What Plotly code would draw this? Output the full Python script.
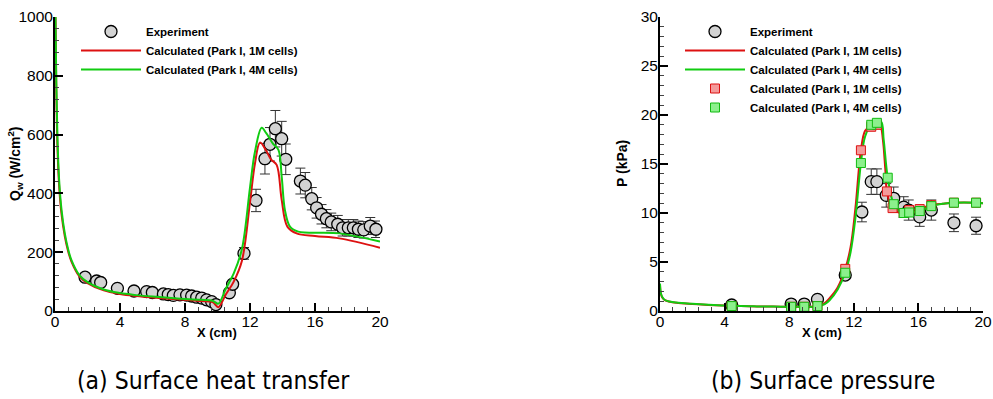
import plotly.graph_objects as go

# ---------------- (a) Surface heat transfer ----------------
exp_q_x = [1.85, 2.56, 2.81, 3.84, 4.86, 5.64, 5.99, 6.67, 6.97, 7.28, 7.69, 8.10, 8.41,
           8.72, 9.03, 9.33, 9.64, 9.90, 10.73, 10.93, 11.63, 12.37, 12.92, 13.23, 13.56,
           13.95, 14.20, 15.10, 15.40, 15.80, 16.10, 16.40, 16.70, 17.00, 17.40, 17.70,
           18.05, 18.36, 18.67, 19.00, 19.40, 19.75]
exp_q_y = [115, 102, 97, 77, 68, 66, 63, 58, 56, 53, 55, 54, 51,
           47, 44, 38, 32, 22, 62, 91, 196, 376, 518, 567, 620,
           586, 516, 442, 428, 382, 351, 329, 314, 303, 295, 283,
           283, 283, 278, 276, 289, 278]
exp_q_err = [11, 10, 10, 8, 7, 7, 6, 6, 6, 5, 6, 5, 5,
             5, 4, 4, 3, 2, 6, 9, 20, 38, 52, 57, 62,
             59, 52, 44, 43, 38, 35, 33, 31, 30, 30, 28,
             28, 28, 28, 28, 29, 28]

calc1m_q_x = [0.03, 0.08, 0.15, 0.25, 0.4, 0.6, 0.8, 1.0, 1.5, 2.0, 3.0, 4.0, 5.0, 6.0, 7.0,
              8.0, 9.0, 9.7, 10.05, 10.5, 11.0, 11.5, 12.0, 12.3, 12.62, 13.0, 13.3, 13.64,
              13.95, 14.3, 14.87, 16.0, 17.5, 20.0]
calc1m_q_y = [1000, 750, 560, 430, 330, 255, 205, 170, 118, 95, 70, 58, 51, 46, 42,
              38, 34, 30, 13, 55, 100, 170, 370, 500, 573, 545, 515, 497,
              378, 287, 264, 255, 247, 215]

calc4m_q_x = [0.03, 0.08, 0.15, 0.25, 0.4, 0.6, 0.8, 1.0, 1.5, 2.0, 3.0, 4.0, 5.0, 6.0, 7.0,
              8.0, 9.0, 9.7, 10.05, 10.5, 11.0, 11.5, 12.0, 12.3, 12.72, 13.0, 13.4, 13.75,
              13.95, 14.15, 14.46, 14.97, 17.5, 20.0]
calc4m_q_y = [1000, 780, 590, 450, 345, 265, 212, 175, 122, 98, 73, 61, 54, 49, 45,
              41, 38, 35, 25, 75, 128, 210, 420, 540, 623, 605, 570, 548,
              457, 343, 287, 270, 264, 236]

# ---------------- (b) Surface pressure ----------------
exp_p_x = [4.44, 8.12, 8.93, 9.75, 11.47, 12.50, 13.08, 13.43, 14.01, 14.47, 15.09, 15.40,
           16.08, 16.80, 18.20, 19.57]
exp_p_y = [0.61, 0.71, 0.71, 1.19, 3.67, 10.1, 13.2, 13.2, 11.8, 11.5, 10.6, 10.3,
           9.6, 10.3, 9.0, 8.7]
exp_p_err = [0.06, 0.07, 0.07, 0.12, 0.37, 1.0, 1.3, 1.3, 1.2, 1.15, 1.06, 1.03,
             0.96, 1.03, 0.9, 0.87]

calc1m_p_x = [0.0, 0.05, 0.15, 0.3, 0.6, 1.0, 2.0, 3.0, 4.0, 5.0, 6.0, 7.0, 8.0, 9.0, 9.75,
              10.2, 10.5, 11.0, 11.47, 11.8, 12.1, 12.44, 12.7, 13.0, 13.4, 13.65, 13.8,
              13.95, 14.05, 14.35, 14.7, 15.0, 15.4, 16.0, 16.75, 17.5, 18.15, 19.55, 20.0]
calc1m_p_y = [2.7, 1.8, 1.35, 1.1, 0.95, 0.85, 0.72, 0.62, 0.55, 0.5, 0.47, 0.45, 0.43, 0.43, 0.48,
              0.8, 1.3, 2.4, 4.3, 6.5, 10.5, 16.4, 18.4, 18.8, 18.9, 18.8, 17.5,
              14.5, 12.2, 10.5, 10.1, 10.0, 10.3, 10.4, 10.8, 10.95, 11.05, 11.05, 11.0]

calc4m_p_x = [0.0, 0.05, 0.15, 0.3, 0.6, 1.0, 2.0, 3.0, 4.0, 5.0, 6.0, 7.0, 8.0, 9.0, 9.75,
              10.2, 10.5, 11.0, 11.47, 11.8, 12.1, 12.44, 12.7, 13.08, 13.43, 13.7, 13.85,
              14.1, 14.47, 14.8, 15.09, 15.43, 16.08, 16.8, 17.5, 18.2, 19.57, 20.0]
calc4m_p_y = [2.8, 1.85, 1.4, 1.12, 0.96, 0.86, 0.73, 0.63, 0.56, 0.5, 0.47, 0.45, 0.43, 0.43, 0.45,
              0.7, 1.1, 2.2, 3.9, 6.0, 9.5, 15.1, 17.8, 19.0, 19.2, 19.3, 17.5,
              13.6, 10.9, 10.2, 10.0, 10.05, 10.2, 10.7, 10.95, 11.05, 11.05, 11.0]

sq1m_p_x = [4.44, 8.12, 8.93, 9.75, 11.47, 12.44, 13.08, 13.43, 14.05, 14.40, 15.09, 15.43,
            16.08, 16.80, 18.20, 19.57]
sq1m_p_y = [0.5, 0.43, 0.43, 0.5, 4.3, 16.4, 18.8, 19.0, 12.2, 10.5, 10.0, 10.3,
            10.4, 10.8, 11.05, 11.05]
sq4m_p_x = [4.44, 8.12, 8.93, 9.75, 11.47, 12.44, 13.08, 13.43, 14.10, 14.47, 15.09, 15.43,
            16.08, 16.80, 18.20, 19.57]
sq4m_p_y = [0.5, 0.43, 0.43, 0.5, 3.9, 15.1, 19.0, 19.2, 13.6, 10.9, 10.0, 10.05,
            10.2, 10.7, 11.05, 11.05]

x_ticks = [0, 4, 8, 12, 16, 20]
captions = ["(a) Surface heat transfer", "(b) Surface pressure"]
label_exp = "Experiment"
label_1m = "Calculated (Park I, 1M cells)"
label_4m = "Calculated (Park I, 4M cells)"

RED = "#dd1111"
GREEN = "#11cc11"
W, H = 993, 399

fig = go.Figure()

circle_marker = dict(symbol="circle", size=12, color="#d3d3d3",
                     line=dict(color="black", width=1.3))
err_style = dict(thickness=1, width=5, color="#333333")

# left panel
fig.add_trace(go.Scatter(x=exp_q_x, y=exp_q_y, mode="markers", name=label_exp,
                         marker=circle_marker, cliponaxis=False,
                         error_y=dict(type="data", array=exp_q_err, **err_style),
                         xaxis="x", yaxis="y", legend="legend"))
fig.add_trace(go.Scatter(x=calc1m_q_x, y=calc1m_q_y, mode="lines", name=label_1m,
                         line=dict(color=RED, width=2), line_shape="spline",
                         xaxis="x", yaxis="y", legend="legend"))
fig.add_trace(go.Scatter(x=calc4m_q_x, y=calc4m_q_y, mode="lines", name=label_4m,
                         line=dict(color=GREEN, width=2), line_shape="spline",
                         xaxis="x", yaxis="y", legend="legend"))

# right panel
fig.add_trace(go.Scatter(x=exp_p_x, y=exp_p_y, mode="markers", name=label_exp,
                         marker=circle_marker, cliponaxis=False,
                         error_y=dict(type="data", array=exp_p_err, **err_style),
                         xaxis="x2", yaxis="y2", legend="legend2"))
fig.add_trace(go.Scatter(x=calc1m_p_x, y=calc1m_p_y, mode="lines", name=label_1m,
                         line=dict(color=RED, width=2), line_shape="spline",
                         xaxis="x2", yaxis="y2", legend="legend2"))
fig.add_trace(go.Scatter(x=calc4m_p_x, y=calc4m_p_y, mode="lines", name=label_4m,
                         line=dict(color=GREEN, width=2), line_shape="spline",
                         xaxis="x2", yaxis="y2", legend="legend2"))
fig.add_trace(go.Scatter(x=sq1m_p_x, y=sq1m_p_y, mode="markers", name=label_1m,
                         marker=dict(symbol="square", size=9, color="#f49a9a",
                                     line=dict(color="#dd1111", width=1)),
                         cliponaxis=False, xaxis="x2", yaxis="y2", legend="legend2"))
fig.add_trace(go.Scatter(x=sq4m_p_x, y=sq4m_p_y, mode="markers", name=label_4m,
                         marker=dict(symbol="square", size=9, color="#8cf08c",
                                     line=dict(color="#11bb11", width=1)),
                         cliponaxis=False, xaxis="x2", yaxis="y2", legend="legend2"))

TICKFONT = dict(family="Liberation Sans, Arial, sans-serif", size=15.5, color="black")
common_x = dict(range=[0, 20], tickvals=x_ticks, ticks="inside", ticklen=8, tickwidth=1.5,
                tickcolor="black", showline=True, linewidth=2, linecolor="black",
                showgrid=False, zeroline=False, tickfont=TICKFONT, automargin=False,
                ticklabelstandoff=-5,
                minor=dict(dtick=0.8, tick0=0, ticks="inside", ticklen=4, tickwidth=1,
                           tickcolor="#444444"))
common_y = dict(ticks="inside", ticklen=8, tickwidth=1.5, tickcolor="black",
                showline=True, linewidth=2, linecolor="black", showgrid=False,
                zeroline=False, tickfont=TICKFONT, automargin=False,
                ticklabelstandoff=-3)

y0 = 1 - 311 / H
y1 = 1 - 17 / H

LEGFONT = dict(family="Liberation Sans, Arial, sans-serif", size=11.5, color="black",
               weight="bold")
fig.update_layout(
    width=W, height=H,
    margin=dict(l=0, r=0, t=0, b=0),
    paper_bgcolor="white", plot_bgcolor="white",
    showlegend=True,
    xaxis=dict(domain=[55 / W, 380 / W], anchor="y", **common_x),
    yaxis=dict(domain=[y0, y1], anchor="x", range=[0, 1000], dtick=200,
               minor=dict(dtick=40, ticks="inside", ticklen=4, tickwidth=1,
                          tickcolor="#444444"), **common_y),
    xaxis2=dict(domain=[660 / W, 983 / W], anchor="y2", **common_x),
    yaxis2=dict(domain=[y0, y1], anchor="x2", range=[0, 30], dtick=5,
                minor=dict(dtick=1, ticks="inside", ticklen=4, tickwidth=1,
                           tickcolor="#444444"), **common_y),
    legend=dict(x=76 / W, y=1 - 17 / H, xanchor="left", yanchor="top",
                bgcolor="rgba(0,0,0,0)", itemwidth=60, tracegroupgap=0, font=LEGFONT),
    legend2=dict(x=680 / W, y=1 - 17 / H, xanchor="left", yanchor="top",
                 bgcolor="rgba(0,0,0,0)", itemwidth=60, tracegroupgap=0, font=LEGFONT),
)

YTITLE = dict(family="Liberation Sans, Arial, sans-serif", size=14, color="black",
              weight="bold")
XTITLE = dict(family="Liberation Sans, Arial, sans-serif", size=13, color="black",
              weight="bold")
CAPFONT = dict(family="DejaVu Sans Condensed, DejaVu Sans, sans-serif", size=24.5,
               color="black")
annotations = [
    dict(text="Q<sub>w</sub> (W/cm<sup>2</sup>)", x=15 / W, y=1 - 164 / H, textangle=-90,
         xref="paper", yref="paper", showarrow=False, font=YTITLE,
         xanchor="center", yanchor="middle"),
    dict(text="P (kPa)", x=622 / W, y=1 - 164 / H, textangle=-90,
         xref="paper", yref="paper", showarrow=False, font=YTITLE,
         xanchor="center", yanchor="middle"),
    dict(text="X (cm)", x=217 / W, y=1 - 332 / H, xref="paper", yref="paper",
         showarrow=False, font=XTITLE, xanchor="center", yanchor="middle"),
    dict(text="X (cm)", x=822 / W, y=1 - 332 / H, xref="paper", yref="paper",
         showarrow=False, font=XTITLE, xanchor="center", yanchor="middle"),
    dict(text=captions[0], x=213 / W, y=1 - 380 / H, xref="paper", yref="paper",
         showarrow=False, xanchor="center", yanchor="middle", font=CAPFONT),
    dict(text=captions[1], x=823 / W, y=1 - 380 / H, xref="paper", yref="paper",
         showarrow=False, xanchor="center", yanchor="middle", font=CAPFONT),
]
fig.update_layout(annotations=annotations)

fig.write_html("out.html")
